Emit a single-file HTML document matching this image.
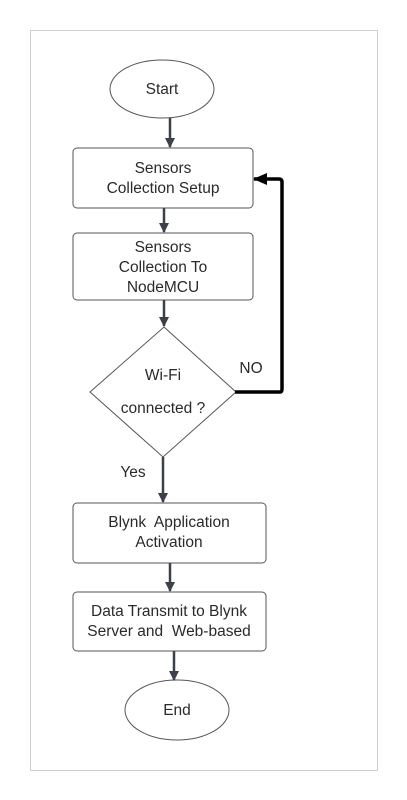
<!DOCTYPE html>
<html><head><style>
html,body{margin:0;padding:0;background:#fff;}
svg{display:block;}
text{font-family:"Liberation Sans",sans-serif;font-size:15.5px;fill:#2a2a2a;text-anchor:middle;white-space:pre;}
</style></head><body>
<svg width="407" height="800" viewBox="0 0 407 800">
<defs>
<marker id="a" markerWidth="10" markerHeight="10" refX="9" refY="5" orient="auto" markerUnits="userSpaceOnUse">
<path d="M0,0 L10,5 L0,10 z" fill="#3b4049"/></marker>
<marker id="b" markerWidth="14" markerHeight="12" refX="13" refY="6" orient="auto" markerUnits="userSpaceOnUse">
<path d="M0,0 L14,6 L0,12 z" fill="#000"/></marker>
</defs>
<rect x="30.5" y="30.5" width="347" height="740" fill="#fff" stroke="#d0d0d0" stroke-width="1"/>
<g fill="#fff" stroke="#555" stroke-width="1">
<ellipse cx="162" cy="89" rx="52" ry="29"/>
<rect x="73" y="148" width="180" height="60" rx="4"/>
<rect x="73" y="233" width="180" height="67" rx="4"/>
<path d="M164,327 L236,392 L163,457 L90,392 Z"/>
<rect x="73" y="503" width="193" height="60" rx="4"/>
<rect x="73" y="592" width="193" height="59" rx="4"/>
<ellipse cx="177" cy="710" rx="52" ry="30"/>
</g>
<g stroke="#3b4049" stroke-width="2.5" fill="none">
<line x1="170" y1="118" x2="170" y2="147" marker-end="url(#a)"/>
<line x1="164" y1="208" x2="164" y2="232" marker-end="url(#a)"/>
<line x1="164" y1="300" x2="164" y2="326" marker-end="url(#a)"/>
<line x1="163" y1="457" x2="163" y2="502" marker-end="url(#a)"/>
<line x1="170" y1="563" x2="170" y2="591" marker-end="url(#a)"/>
<line x1="174" y1="651" x2="174" y2="680" marker-end="url(#a)"/>
</g>
<path d="M235,392 L280,392 Q282,392 282,389 L282,182 Q282,179 279,179 L254,179" stroke="#000" stroke-width="3.5" fill="none" marker-end="url(#b)"/>
<text x="162" y="94">Start</text>
<text x="163" y="173">Sensors</text>
<text x="163" y="193">Collection Setup</text>
<text x="163" y="252">Sensors</text>
<text x="163" y="272">Collection To</text>
<text x="163" y="292">NodeMCU</text>
<text x="163" y="380">Wi-Fi</text>
<text x="163" y="413">connected ?</text>
<text x="251" y="373">NO</text>
<text x="133" y="477">Yes</text>
<text x="169" y="527">Blynk  Application</text>
<text x="169" y="547">Activation</text>
<text x="169" y="616">Data Transmit to Blynk</text>
<text x="169" y="636">Server and  Web-based</text>
<text x="177" y="715">End</text>
</svg>
</body></html>
